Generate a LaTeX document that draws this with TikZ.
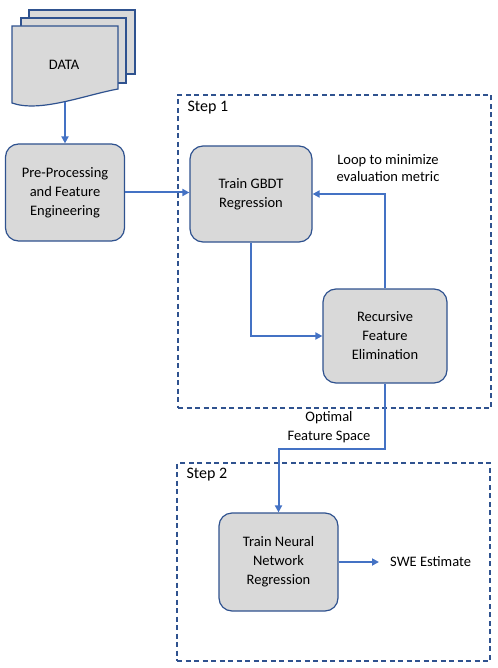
\documentclass[tikz,border=0pt]{standalone}
\usepackage{fontspec}
\setmainfont{Carlito}
\usetikzlibrary{positioning,arrows.meta,calc}
\definecolor{boxgray}{HTML}{D9D9D9}
\definecolor{edgeblue}{HTML}{2F528F}
\definecolor{linkblue}{HTML}{4472C4}

\begin{document}
\begin{tikzpicture}[x=1pt, y=-1pt, font=\fontsize{14.5}{19}\selectfont]

% Styles
\tikzset{
    boxstyle/.style={rectangle, draw=edgeblue, line width=1.2pt, fill=boxgray, rounded corners=13pt, align=center, inner sep=0pt},
    sheet/.style={draw=edgeblue, line width=1.2pt, fill=boxgray},
    stepframe/.style={rectangle, draw=edgeblue, line width=1.3pt, dash pattern=on 5pt off 3.5pt, inner sep=0pt},
    steplabel/.style={anchor=north west, inner sep=0pt, font=\fontsize{16}{19}\selectfont},
    note/.style={align=center, inner sep=0pt},
    arrow/.style={-{Triangle[length=7pt, width=7pt]}, linkblue, line width=2pt}
}

\useasboundingbox (0,0) rectangle (497,668);

% Data stack
\draw[sheet] (29,10) rectangle (135,74);
\draw[sheet] (21,18) rectangle (126,83);
\draw[sheet] (12,26) -- (118,26) -- (118,89) .. controls (85,95) and (40,113) .. (12,103) -- cycle;
\node (data) at (64,65) {DATA};
\coordinate (databot) at (65,102);

% Step frames
\node[stepframe, minimum width=313pt, minimum height=313pt] (step1) at (334.5,251.5) {};
\node[steplabel] (step1lbl) at ($(step1.north west)+(10,7)$) {Step 1};
\node[stepframe, minimum width=313pt, minimum height=198pt] (step2) at (333.5,562) {};
\node[steplabel] (step2lbl) at ($(step2.north west)+(10,6)$) {Step 2};

% Process boxes
\node[boxstyle, minimum width=119pt, minimum height=97pt] (pre) at (65,192.5) {Pre-Processing\\and Feature\\Engineering};
\node[boxstyle, minimum width=122pt, minimum height=96pt] (gbdt) at (251,194) {Train GBDT\\Regression};
\node[boxstyle, minimum width=124pt, minimum height=94pt] (rfe) at (385,336) {Recursive\\Feature\\Elimination};
\node[boxstyle, minimum width=119pt, minimum height=98pt] (nnr) at (278.5,562) {Train Neural\\Network\\Regression};

% Text labels
\node[note, font=\fontsize{14.5}{17}\selectfont] (loop) at (388,168.5) {Loop to minimize\\evaluation metric};
\node[note] (optimal) at (329,427) {Optimal\\Feature Space};
\node[note, inner xsep=11pt, anchor=west] (swe) at (379,562) {SWE Estimate};

% Arrows
\draw[arrow] (databot) -- (databot |- pre.north);
\draw[arrow] (pre.east) -- (pre.east -| gbdt.west);
\draw[arrow] (gbdt.south) |- (rfe.west);
\draw[arrow] (rfe.north) |- (gbdt.east);
\draw[arrow] (rfe.south) -- ++(0,65) -| (nnr.north);
\draw[arrow] (nnr.east) -- (swe.west);

\end{tikzpicture}
\end{document}
